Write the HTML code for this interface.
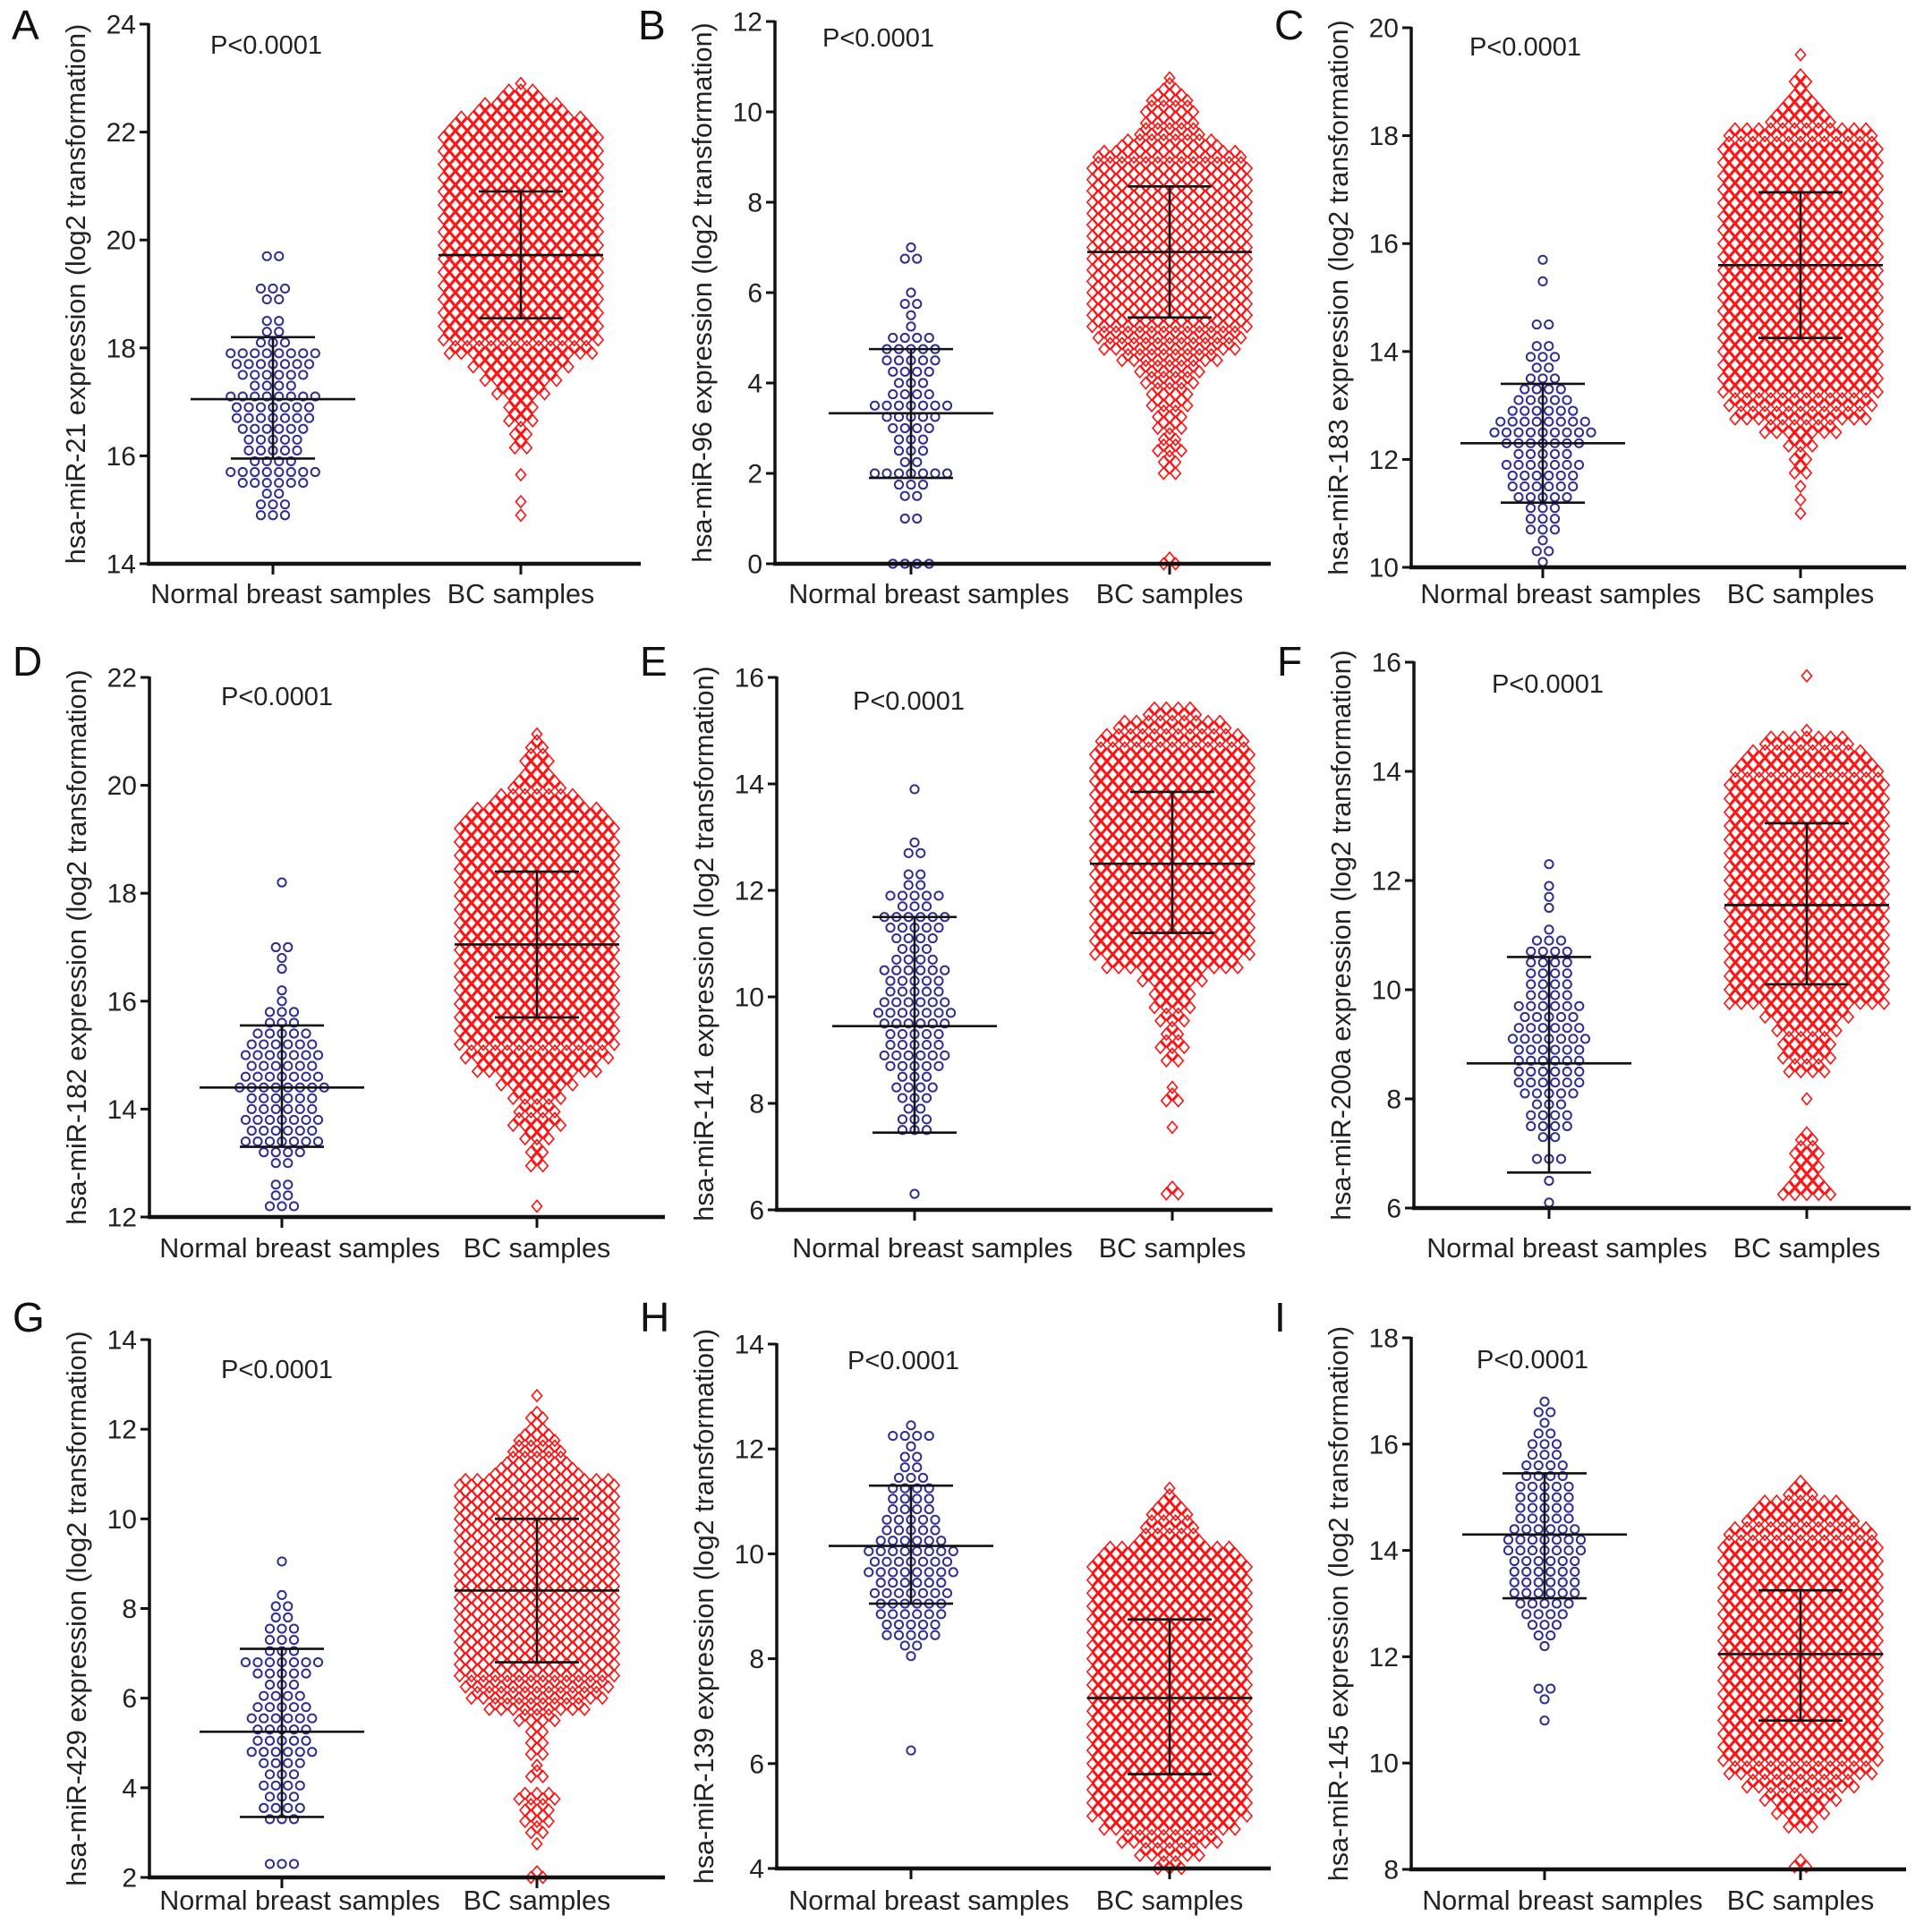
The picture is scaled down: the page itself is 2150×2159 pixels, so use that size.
<!DOCTYPE html>
<html><head><meta charset="utf-8"><style>
html,body{margin:0;padding:0;background:#fff;}
svg{display:block;font-family:"Liberation Sans",Arial,sans-serif;}
</style></head>
<body>
<svg id="fig" width="2150" height="2159" viewBox="0 0 2150 2159" xmlns="http://www.w3.org/2000/svg"></svg>
<script>
// ---------- data ----------
const panelLetters = ["A","B","C","D","E","F","G","H","I"];
const mirnaNames = ["hsa-miR-21","hsa-miR-96","hsa-miR-183","hsa-miR-182","hsa-miR-141","hsa-miR-200a","hsa-miR-429","hsa-miR-139","hsa-miR-145"];
const groupLabels = ["Normal breast samples","BC samples"];
const pLabel = "P<0.0001";
const yTickMin = [14,0,10,12,6,6,2,4,8];
const yTickMax = [24,12,20,22,16,16,14,14,18];
const yTickStep = [2,2,2,2,2,2,2,2,2];
// mean, mean-sd, mean+sd
const normalMean = [17.05,3.33,12.3,14.4,9.45,8.65,5.25,10.15,14.3];
const normalLow  = [15.95,1.9,11.2,13.3,7.45,6.65,3.35,9.05,13.1];
const normalHigh = [18.2,4.75,13.4,15.55,11.5,10.6,7.1,11.3,15.45];
const bcMean = [19.72,6.9,15.6,17.05,12.5,11.55,8.4,7.25,12.05];
const bcLow  = [18.55,5.45,14.25,15.7,11.2,10.1,6.8,5.8,10.8];
const bcHigh = [20.9,8.35,16.95,18.4,13.85,13.05,10.0,8.75,13.25];
// beeswarm profiles: start value, bin step, markers per row
const normalStart = [14.9,0,10.1,12.2,6.3,6.1,2.3,6.25,10.8];
const normalStep  = [0.2,0.25,0.2,0.2,0.2,0.2,0.25,0.2,0.2];
const normalCounts = [
 [3,3,2,6,8,4,5,5,6,7,7,8,4,6,7,8,3,2,2,0,2,3,0,0,2],
 [4,0,0,0,2,0,2,3,7,2,3,3,4,5,7,4,3,4,5,5,4,1,1,2,1,0,0,2,1],
 [1,2,1,3,3,3,5,6,6,7,5,7,9,8,6,5,4,3,2,3,2,0,2,0,0,0,1,0,1],
 [3,2,2,0,2,4,7,6,7,6,6,8,7,6,7,6,5,3,3,1,1,0,1,1,2,0,0,0,0,0,1],
 [1,0,0,0,0,0,3,3,2,3,4,3,5,6,5,5,6,7,6,5,5,6,4,3,4,5,6,3,5,2,2,0,2,1,0,0,0,0,1],
 [1,0,1,0,3,0,2,4,4,3,5,6,6,6,6,7,6,5,6,4,4,4,4,4,3,1,0,1,1,1,0,1],
 [3,0,0,0,3,4,3,4,3,4,6,5,5,6,5,4,3,5,7,3,3,3,2,2,1,0,0,1],
 [1,0,0,0,0,0,0,0,0,1,2,5,5,6,6,7,6,8,7,8,6,5,5,4,4,4,3,2,2,1,4,1],
 [1,0,1,2,0,0,0,1,2,3,4,5,6,6,6,6,7,7,6,5,5,5,5,4,4,3,3,2,1,2,1]
];
const bcStart = [14.9,0,11.0,12.2,6.3,6.25,2.0,4.0,8.05];
const bcStep  = [0.25,0.25,0.25,0.25,0.25,0.25,0.25,0.25,0.25];
const bcCounts = [
 [1,1,0,1,0,2,2,3,3,5,7,9,13,14,14,14,14,14,14,14,14,14,14,14,14,14,14,14,14,12,8,4,1],
 [2,0,0,0,0,0,0,0,2,2,3,2,3,3,4,4,5,6,9,12,13,14,14,14,14,14,14,14,14,14,14,14,14,14,14,14,13,9,6,5,5,4,2,1],
 [1,1,1,2,2,3,7,12,13,14,14,14,14,14,14,14,14,14,14,14,14,14,14,14,14,14,14,14,13,6,4,2,2,0,1],
 [1,0,0,2,2,3,5,4,5,7,11,13,14,14,14,14,14,14,14,14,14,14,14,14,14,14,14,14,14,12,8,5,3,3,2,1],
 [2,0,0,0,0,1,0,2,1,0,2,3,2,3,4,4,6,12,14,14,14,14,14,14,14,14,14,14,14,14,14,14,14,14,13,10,5],
 [5,3,3,3,2,0,0,1,0,4,5,5,6,8,14,14,14,14,14,14,14,14,14,14,14,14,14,14,14,14,14,13,11,8,1,0,0,0,1],
 [2,0,0,1,2,3,3,4,0,2,1,2,2,2,4,9,12,13,14,14,14,14,14,14,14,14,14,14,14,14,14,14,14,14,14,14,8,6,5,4,2,2,0,1],
 [3,6,9,12,14,14,14,14,14,14,14,14,14,14,14,14,14,14,14,14,14,14,14,14,12,6,5,4,2,1],
 [2,0,0,3,5,7,10,13,14,14,14,14,14,14,14,14,14,14,14,14,14,14,14,14,14,13,10,8,3,1]
];

// ---------- layout ----------
const axisX   = [166,866,1577,167,868,1580,167,868,1577];
const axisEnd = [716,1420,2130,743,1422,2135,743,1420,2130];
const yTopPx  = [27,24,31,757,757,740,1497,1502,1495];
const yBotPx  = [630,630,634,1360,1352,1350,2098,2088,2089];
const normX   = [305,1018,1724,315,1022,1731,315,1018,1726];
const bcX     = [582,1307,2012,600,1310,2019,600,1307,2012];
const pX      = [235,919,1642,247,953,1667,247,947,1650];
const pY      = [60,52,62,788,793,774,1540,1530,1529];
const xlabY   = [674,674,674,1405,1405,1405,2134,2134,2134];
const letterY = [44,44,44,755,755,755,1488,1488,1488];

const NS="http://www.w3.org/2000/svg";
const svg=document.getElementById('fig');
function mk(tag,attrs,parent){const e=document.createElementNS(NS,tag);for(const k in attrs)e.setAttribute(k,attrs[k]);(parent||svg).appendChild(e);return e;}

for(let p=0;p<9;p++){
  const g=mk('g',{});
  
  
  const y0=yTickMin[p],y1=yTickMax[p];
  const yS=v=>yBotPx[p]-(v-y0)/(y1-y0)*(yBotPx[p]-yTopPx[p]);
  const ax=axisX[p];

  const L=mk('text',{x:axisX[p]-153,y:letterY[p],'font-size':46,fill:'#111'},g);
  L.textContent=panelLetters[p];
  
  

  const midY=(yTopPx[p]+yBotPx[p])/2;
  const yt=mk('text',{x:ax-81,y:midY,'font-size':30.5,fill:'#222','text-anchor':'middle',transform:`rotate(-90 ${ax-81} ${midY})`,'dominant-baseline':'central'},g);
  yt.textContent=mirnaNames[p]+' expression (log2 transformation)';
  
  

  const pt=mk('text',{x:pX[p],y:pY[p],'font-size':29,fill:'#222'},g);
  pt.textContent=pLabel;
  
  

  const pts=mk('g',{},g);
  
  
  const nc=normalCounts[p];
  for(let i=0;i<nc.length;i++){
    const v=normalStart[p]+i*normalStep[p];
    const n=nc[i];
    for(let k=0;k<n;k++){
      const cx=normX[p]+(k-(n-1)/2)*13.5;
      const c=mk('circle',{cx:cx,cy:yS(v),r:4.6,fill:'none',stroke:'#2f2f8f','stroke-width':2},pts);
      
      
    }
  }
  const bpts=mk('g',{},g);
  
  
  const bc=bcCounts[p];
  for(let i=0;i<bc.length;i++){
    const v=bcStart[p]+i*bcStep[p];
    const n=bc[i];
    for(let s=0;s<2;s++){
      const m=s===0?n:Math.max(n-1,0);
      const vy=yS(v+s*bcStep[p]/2);
      for(let k=0;k<m;k++){
        const cx=bcX[p]+(k-(m-1)/2)*13.3;
        const d=mk('path',{d:`M${cx} ${vy-6.5}L${cx+5.6} ${vy}L${cx} ${vy+6.5}L${cx-5.6} ${vy}Z`,fill:'none',stroke:'#ff1010','stroke-width':1.6},bpts);
        
        
      }
    }
  }

  const stats=[[normX[p],normalMean[p],normalLow[p],normalHigh[p],'normal'],[bcX[p],bcMean[p],bcLow[p],bcHigh[p],'bc']];
  for(const [cx,m,lo,hi,nm] of stats){
    const eb=mk('g',{stroke:'#111','stroke-width':2.6},g);
    
    
    mk('line',{x1:cx-92,x2:cx+92,y1:yS(m),y2:yS(m)},eb);
    mk('line',{x1:cx,x2:cx,y1:yS(lo),y2:yS(hi)},eb);
    mk('line',{x1:cx-47,x2:cx+47,y1:yS(lo),y2:yS(lo)},eb);
    mk('line',{x1:cx-47,x2:cx+47,y1:yS(hi),y2:yS(hi)},eb);
  }

  const axg=mk('g',{stroke:'#111','stroke-width':3.5},g);
  
  
  mk('line',{x1:ax,x2:ax,y1:yTopPx[p]-1,y2:yBotPx[p]+2},axg);
  mk('line',{x1:ax-2,x2:axisEnd[p],y1:yBotPx[p],y2:yBotPx[p],'stroke-width':4.5},axg);
  for(let v=y0;v<=y1+1e-9;v+=yTickStep[p]){
    mk('line',{x1:ax-10,x2:ax,y1:yS(v),y2:yS(v),'stroke-width':3},axg);
    const t=mk('text',{x:ax-14,y:yS(v)+10.5,'font-size':30,fill:'#222','text-anchor':'end',stroke:'none'},g);
    t.textContent=String(v);
    
    
  }
  for(const cx of [normX[p],bcX[p]]){
    mk('line',{x1:cx,x2:cx,y1:yBotPx[p],y2:yBotPx[p]+12,'stroke-width':3},axg);
  }
  const xl1=mk('text',{x:normX[p]+20,y:xlabY[p],'font-size':30.5,fill:'#222','text-anchor':'middle'},g);
  xl1.textContent=groupLabels[0];
  
  
  const xl2=mk('text',{x:bcX[p],y:xlabY[p],'font-size':30.5,fill:'#222','text-anchor':'middle'},g);
  xl2.textContent=groupLabels[1];
  
  
}
</script>
</body></html>
